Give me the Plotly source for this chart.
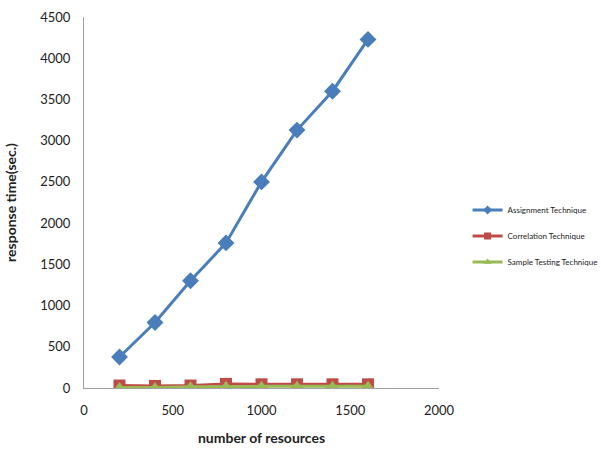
import plotly.graph_objects as go

resources = [200, 400, 600, 800, 1000, 1200, 1400, 1600]
assignment = [376, 795, 1300, 1760, 2500, 3128, 3600, 4228]
correlation = [30, 25, 30, 50, 45, 45, 45, 45]
sample_testing = [5, 5, 15, 20, 20, 20, 20, 20]

series_names = ["Assignment Technique", "Correlation Technique", "Sample Testing Technique"]
series_values = [assignment, correlation, sample_testing]
colors = ["#4a7ebb", "#be4b48", "#98b954"]
symbols = ["diamond", "square", "triangle-up"]
sizes = [13, 12, 11]

x_ticks = [0, 500, 1000, 1500, 2000]
y_ticks = [0, 500, 1000, 1500, 2000, 2500, 3000, 3500, 4000, 4500]

fig = go.Figure()
for name, vals, c, s, sz in zip(series_names, series_values, colors, symbols, sizes):
    fig.add_trace(go.Scatter(x=resources, y=vals, name=name, mode="lines+markers",
                             showlegend=False, legendgroup=name,
                             line=dict(color=c, width=3),
                             marker=dict(symbol=s, size=sz, color=c)))
for name, c, s in zip(series_names, colors, symbols):
    fig.add_trace(go.Scatter(x=[None], y=[None], name=name, mode="lines+markers",
                             legendgroup=name,
                             line=dict(color=c, width=3),
                             marker=dict(symbol=s, size=7, color=c)))

fig.update_layout(
    width=601, height=453,
    margin=dict(l=84, r=162, t=17, b=65),
    paper_bgcolor="white", plot_bgcolor="white",
    font=dict(family="Lato, Open Sans, sans-serif", color="#222", size=13),
    showlegend=True,
    legend=dict(xref="container", yref="container", x=0.778, y=0.479,
                xanchor="left", yanchor="middle",
                font=dict(size=8, family="Lato, sans-serif"),
                tracegroupgap=7, itemwidth=30,
                bgcolor="rgba(0,0,0,0)", borderwidth=0),
    xaxis=dict(range=[0, 2000], tickvals=x_ticks, showgrid=False, zeroline=False,
               showline=True, linecolor="#a0a0a0", linewidth=1, ticks="",
               automargin=False, ticklabelstandoff=10,
               title=dict(text="<b>number of resources</b>", font=dict(size=14), standoff=16)),
    yaxis=dict(range=[0, 4500], tickvals=y_ticks, showgrid=False, zeroline=False,
               showline=True, linecolor="#a0a0a0", linewidth=1, ticks="",
               automargin=False, ticklabelstandoff=10,
               title=dict(text="<b>response time(sec.)</b>", font=dict(size=14), standoff=20)),
)

fig.write_html("out.html")
